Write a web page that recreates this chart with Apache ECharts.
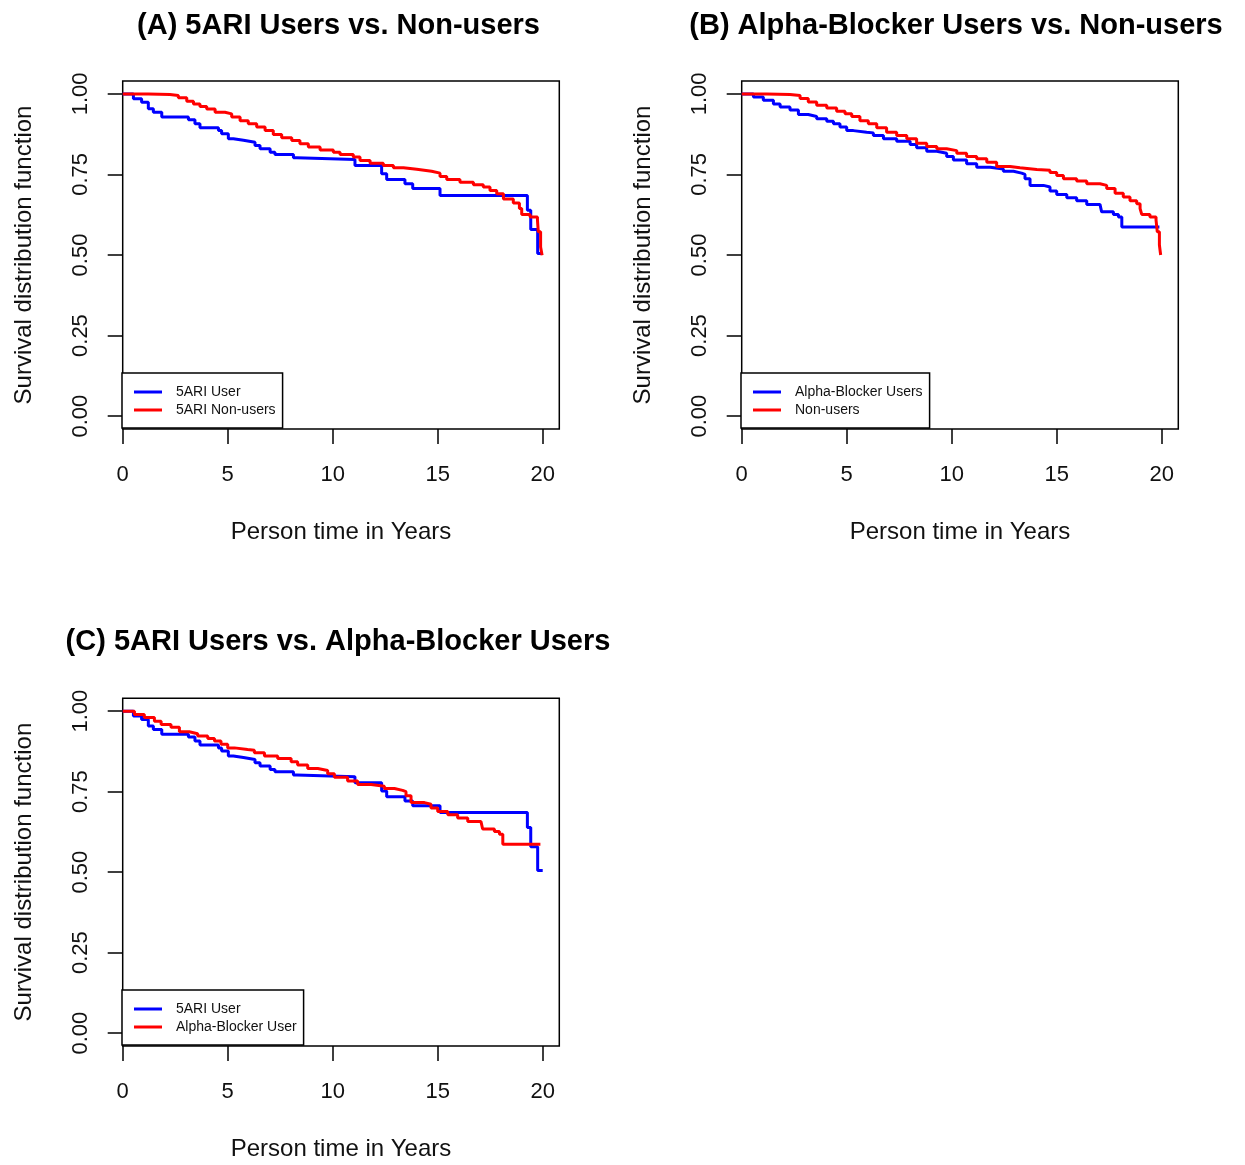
<!DOCTYPE html>
<html>
<head>
<meta charset="utf-8">
<script src="https://cdn.jsdelivr.net/npm/echarts@6/dist/echarts.min.js"></script>
<style>
  body { margin: 0; background: #fff; }
  #chart { width: 1245px; height: 1165px; }
</style>
</head>
<body>
<div id="chart"></div>
<script>
// Kaplan-Meier curves (time in years, survival)
var years5ariUser = [0, 0.51, 0.9, 1.22, 1.46, 1.86, 3.13, 3.44, 3.68, 4.56, 4.71, 5.03, 5.27, 5.75, 6.3, 6.54, 7.02, 7.25, 8.13, 8.29, 11.06, 12.33, 12.57, 13.44, 13.81, 15.11, 19.27, 19.43, 19.76, 20.0];
var surv5ariUser = [1, 0.985, 0.974, 0.954, 0.943, 0.928, 0.920, 0.907, 0.895, 0.886, 0.876, 0.861, 0.856, 0.850, 0.840, 0.830, 0.819, 0.812, 0.802, 0.796, 0.778, 0.752, 0.734, 0.721, 0.706, 0.685, 0.639, 0.579, 0.505, 0.505];

var years5ariNon = [0, 1.22, 2.25, 2.65, 3.05, 3.37, 3.68, 4.0, 4.4, 4.87, 5.19, 5.59, 5.98, 6.38, 6.78, 7.17, 7.57, 8.05, 8.44, 8.84, 9.4, 10.03, 10.35, 10.98, 11.3, 11.78, 12.41, 12.89, 13.37, 14.0, 14.71, 15.11, 15.43, 16.06, 16.7, 17.17, 17.49, 17.81, 18.13, 18.6, 18.89, 19.0, 19.4, 19.75, 19.79, 19.9, 19.97];
var surv5ariNon = [1, 0.998, 0.995, 0.988, 0.977, 0.969, 0.961, 0.953, 0.943, 0.938, 0.928, 0.917, 0.907, 0.897, 0.886, 0.874, 0.864, 0.855, 0.845, 0.835, 0.826, 0.819, 0.812, 0.804, 0.793, 0.785, 0.778, 0.771, 0.766, 0.760, 0.754, 0.744, 0.734, 0.726, 0.718, 0.711, 0.700, 0.690, 0.674, 0.661, 0.644, 0.626, 0.618, 0.608, 0.572, 0.525, 0.499];

var yearsAlphaUser = [0, 0.56, 1.03, 1.51, 1.83, 2.3, 2.7, 3.17, 3.57, 4.05, 4.37, 4.68, 5.0, 5.32, 5.95, 6.27, 6.75, 7.38, 8.02, 8.33, 8.81, 9.29, 9.76, 10.08, 10.71, 11.19, 11.83, 12.46, 12.94, 13.33, 13.49, 13.73, 14.37, 14.68, 15.0, 15.48, 15.95, 16.43, 17.06, 17.14, 17.7, 17.94, 18.1, 19.89];
var survAlphaUser = [1, 0.990, 0.980, 0.969, 0.959, 0.950, 0.936, 0.930, 0.923, 0.915, 0.907, 0.897, 0.886, 0.881, 0.879, 0.871, 0.861, 0.853, 0.843, 0.833, 0.822, 0.816, 0.806, 0.795, 0.783, 0.772, 0.767, 0.760, 0.754, 0.750, 0.737, 0.716, 0.711, 0.699, 0.688, 0.678, 0.668, 0.657, 0.651, 0.634, 0.626, 0.618, 0.587, 0.587];

var yearsAlphaNon = [0, 1.19, 2.3, 2.78, 3.17, 3.57, 4.05, 4.52, 4.92, 5.24, 5.63, 6.03, 6.43, 6.9, 7.38, 7.86, 8.33, 8.81, 9.29, 9.76, 10.24, 10.71, 11.19, 11.67, 12.14, 12.78, 13.25, 14.05, 14.68, 15.0, 15.32, 15.95, 16.43, 17.06, 17.38, 17.78, 18.17, 18.49, 18.81, 18.97, 19.05, 19.44, 19.73, 19.79, 19.89, 19.95];
var survAlphaNon = [1, 0.998, 0.995, 0.986, 0.975, 0.965, 0.956, 0.946, 0.938, 0.930, 0.917, 0.907, 0.895, 0.881, 0.871, 0.861, 0.847, 0.837, 0.830, 0.824, 0.816, 0.806, 0.799, 0.788, 0.775, 0.771, 0.765, 0.763, 0.756, 0.747, 0.737, 0.730, 0.721, 0.716, 0.706, 0.692, 0.680, 0.668, 0.659, 0.644, 0.626, 0.618, 0.608, 0.572, 0.531, 0.500];

var xTicks = [0, 5, 10, 15, 20];
var yTicks = [0, 0.25, 0.5, 0.75, 1];

var FONT = "'Liberation Sans', Arial, sans-serif";
var INK = '#111';

function zip(xs, ys) {
  var out = [];
  for (var i = 0; i < xs.length; i++) out.push([xs[i], ys[i]]);
  return out;
}

// plot boxes (px)
var boxes = [
  { left: 122.7, top: 81, width: 436.6, height: 348 },
  { left: 741.7, top: 81, width: 436.6, height: 348 },
  { left: 122.7, top: 698.3, width: 436.6, height: 347.7 }
];

var grids = [], xAxes = [], yAxes = [];
boxes.forEach(function(b, i) {
  grids.push({
    left: b.left, top: b.top, width: b.width, height: b.height,
    show: true, borderColor: '#000', borderWidth: 1.5, backgroundColor: 'transparent'
  });
  xAxes.push({
    type: 'value', gridIndex: i, min: 0, max: 20.79,
    name: 'Person time in Years', nameLocation: 'middle', nameGap: 91,
    nameTextStyle: { fontFamily: FONT, fontSize: 24, color: INK, verticalAlign: 'top' },
    axisLine: { show: false, onZero: false },
    axisTick: { show: true, length: 15, customValues: xTicks, lineStyle: { color: '#000', width: 1.5 } },
    axisLabel: { customValues: xTicks, margin: 35, fontFamily: FONT, fontSize: 22, color: INK },
    splitLine: { show: false }
  });
  yAxes.push({
    type: 'value', gridIndex: i, min: -0.04, max: 1.04,
    name: 'Survival distribution function', nameLocation: 'middle', nameGap: 86,
    nameTextStyle: { fontFamily: FONT, fontSize: 24, color: INK },
    axisLine: { show: false, onZero: false },
    axisTick: { show: true, length: 15, customValues: yTicks, lineStyle: { color: '#000', width: 1.5 } },
    axisLabel: {
      customValues: yTicks, rotate: 90, margin: 31, fontFamily: FONT, fontSize: 22, color: INK,
      formatter: function(v) { return v.toFixed(2); }
    },
    splitLine: { show: false }
  });
});

function km(name, xs, ys, color, idx) {
  return {
    name: name, type: 'line', step: 'end', xAxisIndex: idx, yAxisIndex: idx,
    data: zip(xs, ys), showSymbol: false, symbol: 'none', animation: false,
    lineStyle: { color: color, width: 3 }, itemStyle: { color: color }
  };
}

var BLUE = '#0000ff', RED = '#ff0000';

function legendAt(left, top, names) {
  return {
    data: names, orient: 'vertical', left: left, top: top,
    icon: 'rect', itemWidth: 28, itemHeight: 3, itemGap: 3,
    padding: [11.5, 7, 10.5, 12],
    backgroundColor: '#fff', borderColor: '#000', borderWidth: 1.5, borderRadius: 0,
    selectedMode: false,
    textStyle: { fontFamily: FONT, fontSize: 14, lineHeight: 15, color: INK, padding: [0, 0, 0, 9] }
  };
}

var titleStyle = { fontFamily: FONT, fontSize: 29, fontWeight: 'bold', color: '#000' };

var option = {
  backgroundColor: '#fff',
  animation: false,
  title: [
    { text: '(A) 5ARI Users vs. Non-users', left: 338.5, top: 11, padding: 0, textAlign: 'center', textStyle: titleStyle },
    { text: '(B) Alpha-Blocker Users vs. Non-users', left: 956, top: 11, padding: 0, textAlign: 'center', textStyle: titleStyle },
    { text: '(C) 5ARI Users vs. Alpha-Blocker Users', left: 338, top: 627, padding: 0, textAlign: 'center', textStyle: titleStyle }
  ],
  grid: grids,
  xAxis: xAxes,
  yAxis: yAxes,
  legend: [
    legendAt(122, 373, ['5ARI User', '5ARI Non-users']),
    legendAt(741, 373, ['Alpha-Blocker Users', 'Non-users']),
    legendAt(122, 990, ['5ARI User ', 'Alpha-Blocker User'])
  ],
  series: [
    km('5ARI User', years5ariUser, surv5ariUser, BLUE, 0),
    km('5ARI Non-users', years5ariNon, surv5ariNon, RED, 0),
    km('Alpha-Blocker Users', yearsAlphaUser, survAlphaUser, BLUE, 1),
    km('Non-users', yearsAlphaNon, survAlphaNon, RED, 1),
    km('5ARI User ', years5ariUser, surv5ariUser, BLUE, 2),
    km('Alpha-Blocker User', yearsAlphaUser, survAlphaUser, RED, 2)
  ]
};

var chart = echarts.init(document.getElementById('chart'));
chart.setOption(option);
window.onresize = chart.resize;
</script>
</body>
</html>
